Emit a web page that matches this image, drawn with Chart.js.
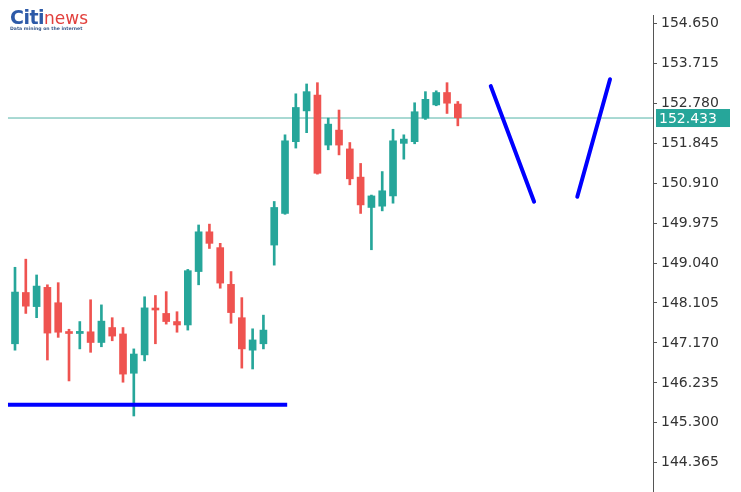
<!DOCTYPE html>
<html>
<head>
<meta charset="utf-8">
<script src="https://cdn.jsdelivr.net/npm/chart.js@4.4.0/dist/chart.umd.min.js"></script>
<style>
  body { margin: 0; background: #fff; }
  #wrap { position: relative; width: 741px; height: 492px; }
  #logo { position: absolute; left: 10px; top: 6px; font-family: "DejaVu Sans", sans-serif; }
  #logo .citi { color: #2d5aa8; font-weight: bold; font-size: 19px; letter-spacing: -0.5px; }
  #logo .news { color: #e2403d; font-size: 17px; }
  #logo .sub { color: #3a5a8c; font-size: 4.6px; font-weight: bold; margin-top: -2px; }
</style>
</head>
<body>
<div id="wrap">
  <canvas id="priceChart"></canvas>
  <div id="logo"><span class="citi">Citi</span><span class="news">news</span><div class="sub">Data mining on the internet</div></div>
</div>
<script>
// candles, one per index 0..41
var opens  = [147.15,148.35,148.02,148.47,148.11,147.41,147.39,147.43,147.18,147.53,147.38,146.46,146.89,147.98,147.86,147.67,147.59,148.84,149.77,149.40,148.54,147.76,147.00,147.15,149.46,150.20,151.88,152.60,152.97,151.80,152.15,151.71,151.05,150.34,150.37,150.61,151.84,151.88,152.43,152.74,153.03,152.76];
var highs  = [148.94,149.13,148.76,148.53,148.58,147.49,147.67,148.18,148.06,147.76,147.53,147.03,148.25,148.28,148.37,147.90,148.89,149.93,149.95,149.50,148.84,148.23,147.50,147.82,150.48,152.04,153.00,153.23,153.26,152.43,152.62,151.86,151.37,150.63,151.18,152.17,152.04,152.79,153.05,153.07,153.26,152.82];
var lows   = [147.00,147.86,147.76,146.77,147.30,146.28,147.03,146.95,147.08,147.22,146.25,145.46,146.75,147.15,147.61,147.42,147.47,148.53,149.38,148.45,147.63,146.58,146.56,147.03,148.99,150.18,151.73,152.09,151.12,151.69,151.57,150.87,150.20,149.35,150.26,150.44,151.47,151.83,152.40,152.72,152.54,152.25];
var closes = [148.36,148.03,148.50,147.40,147.42,147.39,147.44,147.18,147.68,147.33,146.44,146.91,147.99,147.94,147.67,147.59,148.86,149.77,149.50,148.57,147.88,147.03,147.24,147.47,150.34,151.90,152.68,153.05,151.14,152.29,151.80,151.01,150.40,150.61,150.73,151.90,151.94,152.58,152.87,153.03,152.78,152.44];

var yTicks = [154.650,153.715,152.780,151.845,150.910,149.975,149.040,148.105,147.170,146.235,145.300,144.365];
var lastPrice = 152.433;

// drawn lines (x in candle index units)
var supportX = [-0.65, 25.2];
var supportY = [145.72, 145.72];
var vLeftX = [44.05, 48.06];
var vLeftY = [153.18, 150.475];
var vRightX = [52.06, 55.09];
var vRightY = [150.59, 153.34];

var up = '#26a69a', down = '#ef5350';

var bodies = [], wicks = [], colors = [];
for (var i = 0; i < opens.length; i++) {
  bodies.push({x: i, y: [opens[i], closes[i]]});
  wicks.push({x: i, y: [lows[i], highs[i]]});
  colors.push(closes[i] >= opens[i] ? up : down);
}
function pts(xs, ys) {
  return xs.map(function (x, k) { return {x: x, y: ys[k]}; });
}

var priceTag = {
  id: 'priceTag',
  afterDraw: function (chart) {
    var c = chart.ctx, y = chart.scales.y.getPixelForValue(lastPrice);
    c.save();
    c.fillStyle = '#26a69a';
    c.fillRect(656, y - 9, 74, 18);
    c.fillStyle = '#fff';
    c.font = '14px "DejaVu Sans"';
    c.textBaseline = 'middle';
    c.fillText(lastPrice.toFixed(3), 659, y + 1);
    c.restore();
  }
};

new Chart(document.getElementById('priceChart'), {
  type: 'bar',
  data: {
    datasets: [
      {type: 'line', data: pts(vLeftX, vLeftY), borderColor: '#0000ff', borderWidth: 4, borderCapStyle: 'round', pointRadius: 0, order: 0},
      {type: 'line', data: pts(vRightX, vRightY), borderColor: '#0000ff', borderWidth: 4, borderCapStyle: 'round', pointRadius: 0, order: 0},
      {type: 'line', data: pts(supportX, supportY), borderColor: '#0000ff', borderWidth: 4, pointRadius: 0, order: 0},
      {type: 'line', data: pts([-0.65, 59.07], [lastPrice, lastPrice]), borderColor: '#52b3a7', borderWidth: 1, pointRadius: 0, order: 3},
      {data: bodies, backgroundColor: colors, barThickness: 7, grouped: false, minBarLength: 2, order: 1},
      {data: wicks, backgroundColor: colors, barThickness: 2, grouped: false, order: 2}
    ]
  },
  options: {
    responsive: true,
    maintainAspectRatio: false,
    animation: false,
    layout: {padding: {top: 15, left: 0, right: 0, bottom: 0}},
    plugins: {legend: {display: false}, tooltip: {enabled: false}},
    scales: {
      x: {type: 'linear', min: -1.389, max: 59.07, offset: false, display: false},
      y: {
        position: 'right',
        min: 143.681,
        max: 154.844,
        afterBuildTicks: function (s) { s.ticks = yTicks.map(function (v) { return {value: v}; }); },
        afterFit: function (s) { s.width = 88; s.paddingTop = 0; s.paddingBottom = 0; },
        ticks: {
          autoSkip: false,
          padding: 4,
          color: '#333',
          font: {family: 'DejaVu Sans', size: 14},
          callback: function (v) { return v.toFixed(3); }
        },
        grid: {drawOnChartArea: false, tickLength: 4, color: '#555'},
        border: {color: '#555'}
      }
    }
  },
  plugins: [priceTag]
});
</script>
</body>
</html>
